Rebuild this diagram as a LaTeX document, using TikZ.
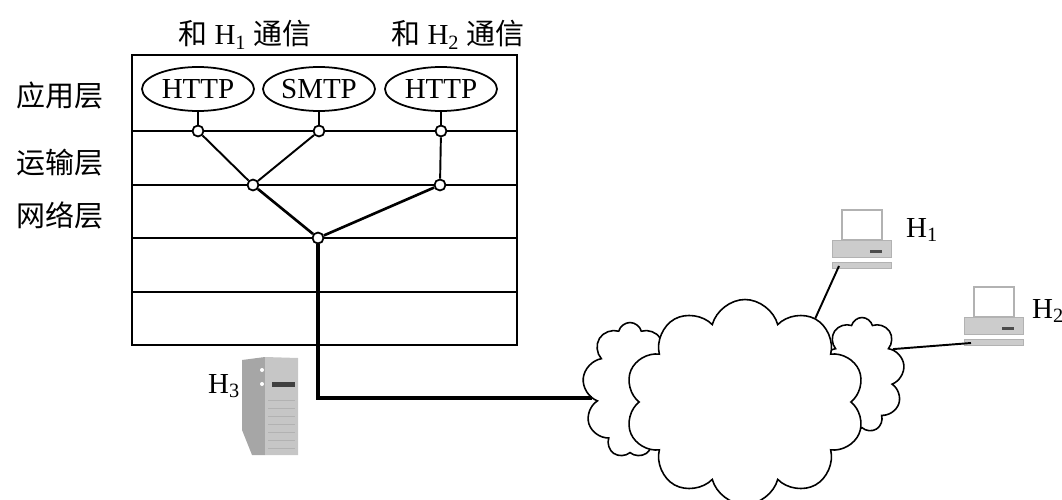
\documentclass[tikz,border=0pt]{standalone}
\usepackage{fontspec}
\setmainfont{Liberation Serif}
\newfontfamily\cjk{Noto Sans CJK SC}
\usetikzlibrary{shapes.geometric,shapes.symbols}

% host name with index
\newcommand{\Hn}[1]{H\textsubscript{#1}}

\tikzset{
  pc/.pic={
    \draw[gray!60,line width=1.2pt,fill=white] (0,0) rectangle (40,30);
    \draw[gray!60,fill=gray!40] (-10,30) rectangle (49,47);
    \fill[black!70] (28,40) rectangle (40,43);
    \draw[gray!60,fill=gray!40] (-10,52) rectangle (49,58);
    \coordinate (-jack) at (-3,56);
  }
}

\begin{document}
\begin{tikzpicture}[x=0.02cm,y=-0.02cm,
    every node/.style={font=\fontsize{16.5}{18}\selectfont},
    frame/.style={line width=1pt},
    proto/.style={draw,ellipse,line width=1pt,minimum width=2.24cm,minimum height=0.88cm,inner sep=0pt},
    port/.style={draw,circle,fill=white,line width=1pt,minimum size=0.22cm,inner sep=0pt},
    wire/.style={line width=1.1pt},
    link/.style={line width=1.5pt},
    trunk/.style={line width=2pt},
    puff/.style={draw,cloud,cloud ignores aspect,fill=white,line width=0.9pt}]
\useasboundingbox (0,0) rectangle (1062,500);

% layer table
\draw[frame] (132,55) rectangle (517,345);
\foreach \y in {131,185,238,292}
  \draw[frame] (132,\y) -- (517,\y);

\node at (60,95) {\cjk 应用层};
\node at (60,163) {\cjk 运输层};
\node at (60,215) {\cjk 网络层};
\node at (245,35) {{\cjk 和} \Hn{1} {\cjk 通信}};
\node at (458,35) {{\cjk 和} \Hn{2} {\cjk 通信}};

\node[proto] (http1) at (198,89) {HTTP};
\node[proto] (smtp) at (319,89) {SMTP};
\node[proto] (http2) at (441,89) {HTTP};

\node[port] (p1) at (198,131) {};
\node[port] (p2) at (319,131) {};
\node[port] (p3) at (441,131) {};
\node[port] (t1) at (253,185) {};
\node[port] (t2) at (440,185) {};
\node[port] (n1) at (318,238) {};

\draw[wire] (http1) -- (p1);
\draw[wire] (smtp) -- (p2);
\draw[wire] (http2) -- (p3);
\draw[wire] (p1) -- (t1);
\draw[wire] (p2) -- (t1);
\draw[wire] (p3) -- (t2);
\draw[link] (t1) -- (n1);
\draw[link] (t2) -- (n1);

% the internet
\node[puff,cloud puffs=9,minimum width=1.9cm,minimum height=2.7cm] (cl) at (630,390) {};
\node[puff,cloud puffs=9,minimum width=1.7cm,minimum height=2.3cm] (cr) at (862,375) {};
\node[puff,cloud puffs=10,minimum width=4.8cm,minimum height=4.1cm] (net) at (745,402) {};

\coordinate (lan) at (592,398);
\draw[trunk] (n1) |- (lan);

% server H3
\fill[gray!70] (242,360) -- (265,357) -- (265,455) -- (252,455) -- (242,430) -- cycle;
\fill[gray!45] (265,357) -- (298,358) -- (298,455) -- (265,455) -- cycle;
\fill[black!75] (272,382) rectangle (295,387);
\foreach \y in {400,408,...,448}
  \draw[gray!60] (268,\y) -- (295,\y);
\fill[white] (262,370) circle (2) (262,384) circle (2);
\node[anchor=base west] at (202,393) {\Hn{3}};

% hosts H1 and H2
\pic (h1) at (842,210) {pc};
\pic (h2) at (974,287) {pc};
\node[anchor=base west] at (900,237) {\Hn{1}};
\node[anchor=base west,inner sep=1pt] at (1030,318) {\Hn{2}};
\draw[wire] (h1-jack) -- (net.50);
\draw[wire] (h2-jack) -- (cr.40);
\end{tikzpicture}
\end{document}
